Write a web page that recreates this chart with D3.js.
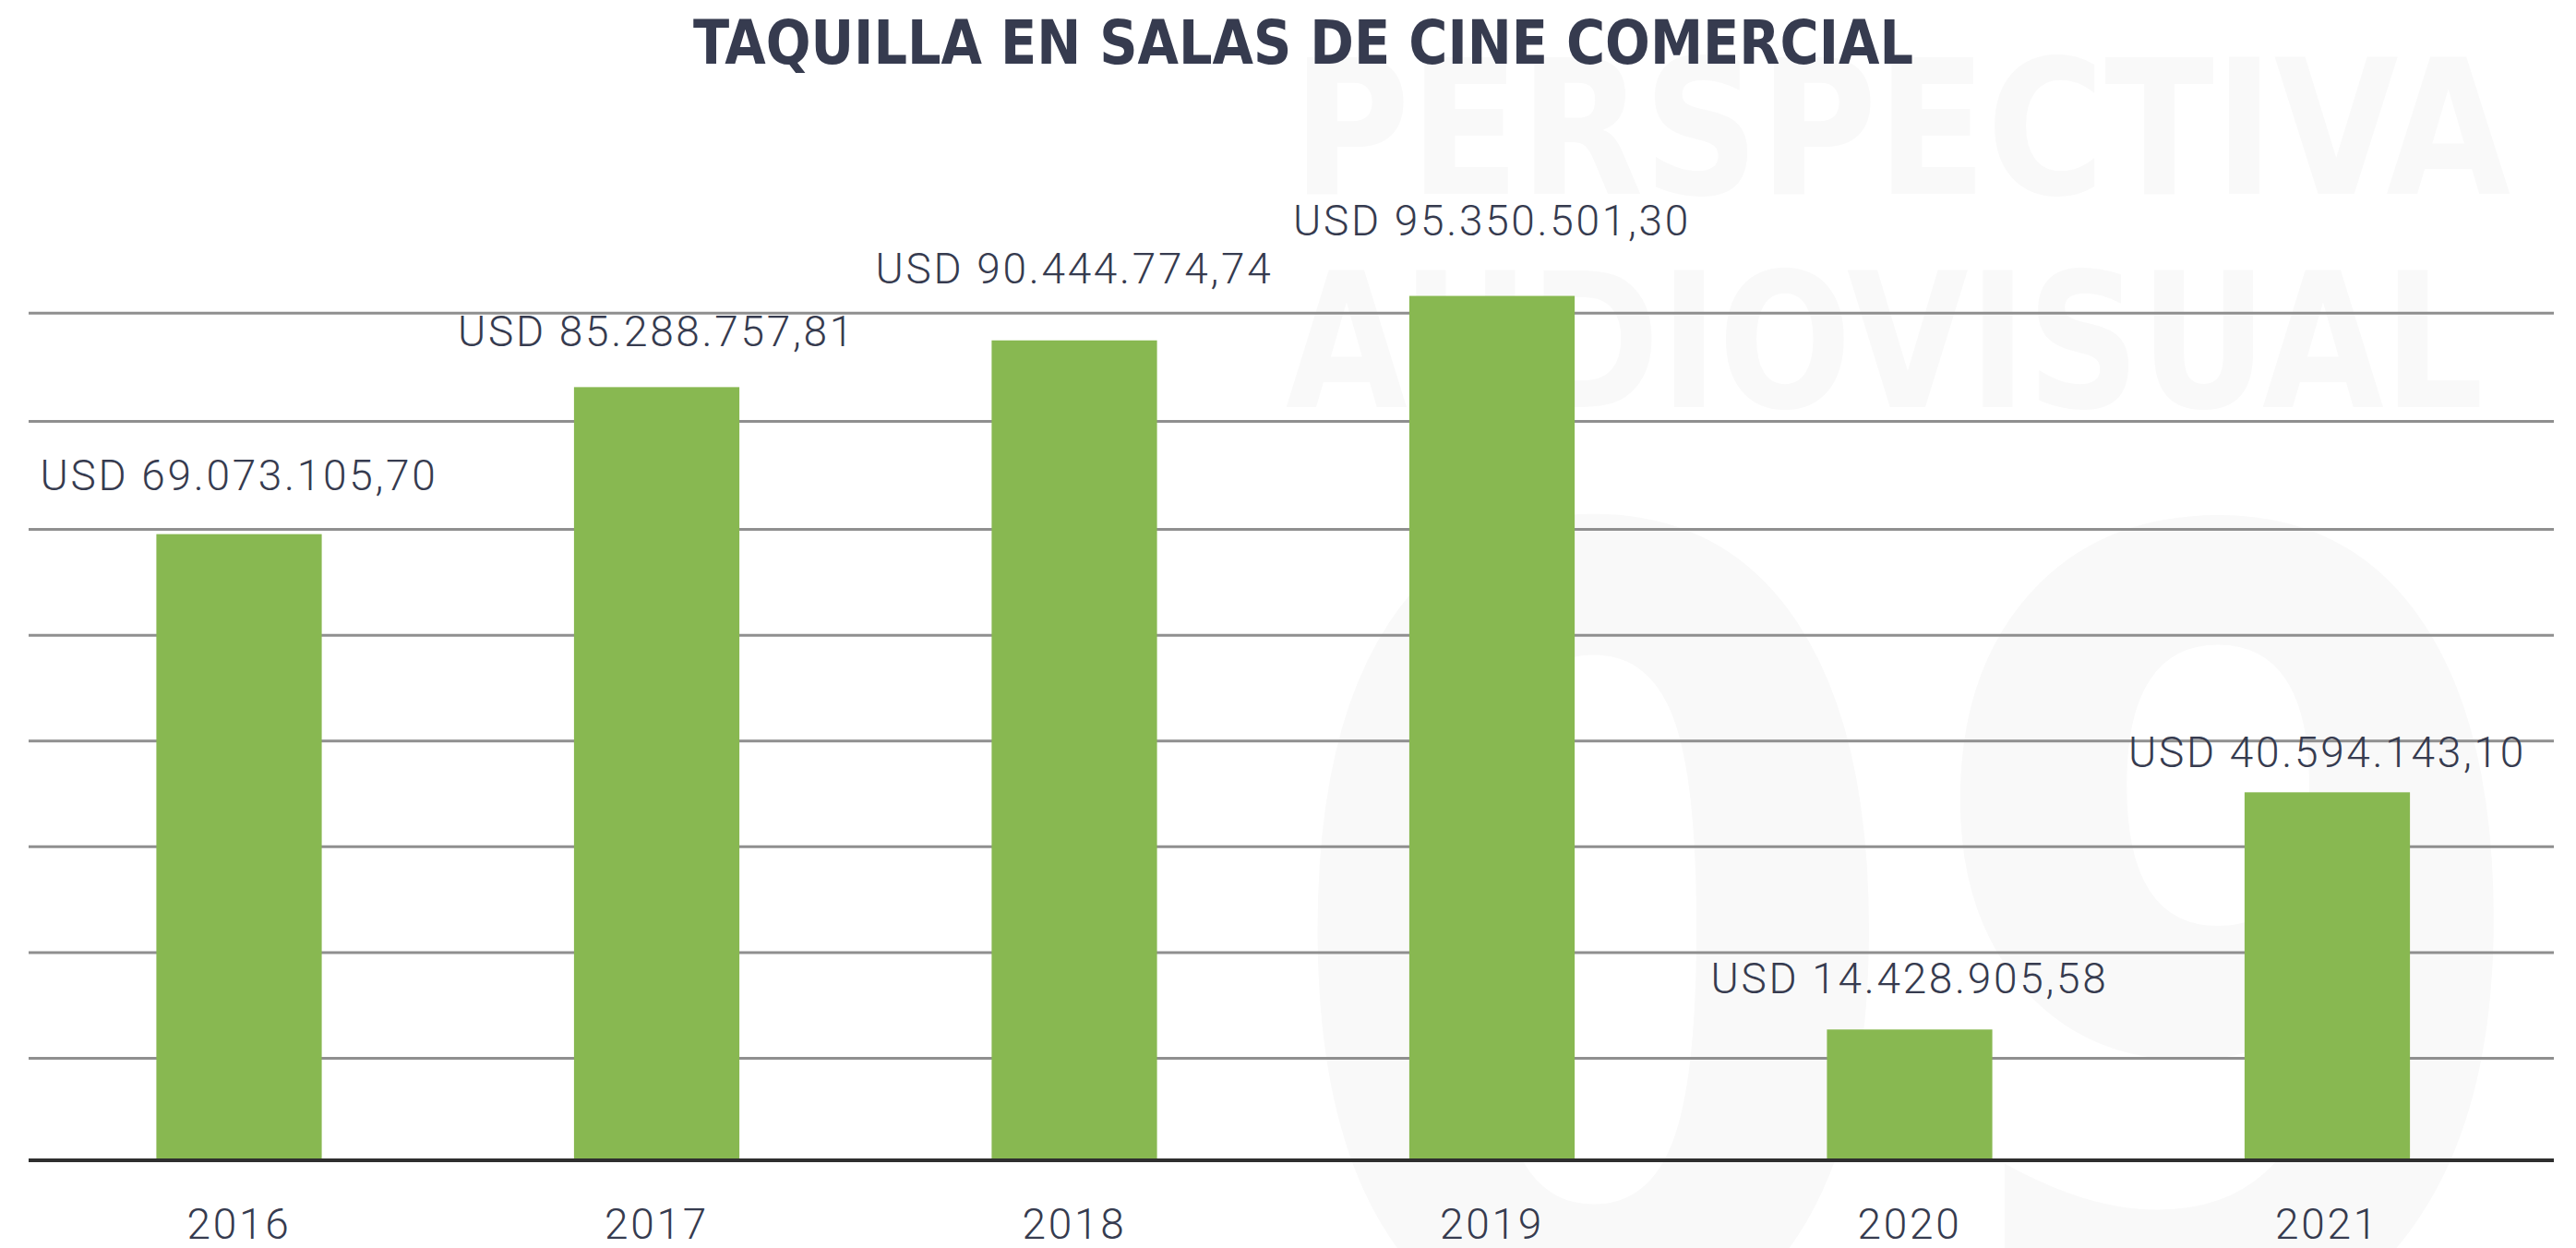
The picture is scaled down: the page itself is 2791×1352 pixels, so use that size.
<!DOCTYPE html>
<html>
<head>
<meta charset="utf-8">
<script src="https://cdn.jsdelivr.net/npm/d3@7"></script>
<style>
  html, body { margin: 0; padding: 0; background: #ffffff; }
  svg { display: block; }
</style>
</head>
<body>
<svg id="chart" width="2791" height="1352"></svg>
<script>
// ---- data ----
const title = "TAQUILLA EN SALAS DE CINE COMERCIAL";
const categories = ["2016", "2017", "2018", "2019", "2020", "2021"];
const values = [69073105.70, 85288757.81, 90444774.74, 95350501.30, 14428905.58, 40594143.10];
const gridValues = [11.25e6, 22.9e6, 34.6e6, 46.25e6, 57.9e6, 69.6e6, 81.5e6, 93.45e6];
const watermarkWords = ["PERSPECTIVA", "AUDIOVISUAL"];
const watermarkNumber = "09";

// ---- layout / style ----
const W = 2791, H = 1352;
const textColor = "#363b4f";
const barColor = "#88b851";
const gridColor = "#8f8f8f";
const wmColor = "#f9f9f9";
// gap (px) between each bar top and its value label baseline, as placed in the original
const labelGap = [48, 44, 62, 66, 39, 27];

const svg = d3.select("#chart");
svg.append("rect").attr("width", W).attr("height", H).attr("fill", "#ffffff");

const x = d3.scaleBand()
  .domain(categories)
  .range([32.75, 2747.75])
  .paddingInner(0.604)
  .paddingOuter(0.302);

const y = d3.scaleLinear()
  .domain([0, 100e6])
  .range([1257, 1257 - 982.1]);

const loc = d3.formatLocale({ decimal: ",", thousands: ".", grouping: [3], currency: ["USD ", ""] });
const fmt = loc.format("$,.2f");

// ---- watermark ----
const wm = svg.append("g").attr("class", "watermark")
  .attr("fill", wmColor)
  .attr("font-family", "'Liberation Sans Narrow', 'DejaVu Sans Condensed', 'Liberation Sans', sans-serif")
  .attr("font-weight", "bold");

const wmLines = [
  { x: 1400, y: 210, len: 1320 },
  { x: 1393, y: 441, len: 1298 }
];
wm.selectAll("text.word").data(watermarkWords).join("text")
  .attr("class", "word")
  .attr("x", (d, i) => wmLines[i].x)
  .attr("y", (d, i) => wmLines[i].y)
  .attr("font-size", 204)
  .attr("textLength", (d, i) => wmLines[i].len)
  .attr("lengthAdjust", "spacingAndGlyphs")
  .text(d => d);

wm.append("text")
  .attr("x", 1380)
  .attr("y", 1440)
  .attr("font-size", 1190)
  .attr("textLength", 1385)
  .attr("lengthAdjust", "spacingAndGlyphs")
  .text(watermarkNumber);

// ---- gridlines ----
svg.append("g").attr("class", "grid")
  .selectAll("line").data(gridValues).join("line")
  .attr("x1", 31).attr("x2", 2767)
  .attr("y1", d => y(d)).attr("y2", d => y(d))
  .attr("stroke", gridColor).attr("stroke-width", 3);

// ---- bars ----
svg.append("g").attr("class", "bars")
  .selectAll("rect").data(values).join("rect")
  .attr("x", (d, i) => x(categories[i]))
  .attr("width", x.bandwidth())
  .attr("y", d => y(d))
  .attr("height", d => y(0) - y(d))
  .attr("fill", barColor);

// ---- baseline ----
svg.append("line")
  .attr("x1", 31).attr("x2", 2767)
  .attr("y1", y(0)).attr("y2", y(0))
  .attr("stroke", "#2e2e2e").attr("stroke-width", 4);

// ---- value labels ----
svg.append("g").attr("class", "labels")
  .selectAll("text").data(values).join("text")
  .attr("x", (d, i) => x(categories[i]) + x.bandwidth() / 2)
  .attr("y", (d, i) => y(d) - labelGap[i])
  .attr("text-anchor", "middle")
  .attr("font-family", "Roboto, 'Open Sans', sans-serif")
  .attr("font-weight", 300)
  .attr("font-size", 46)
  .attr("letter-spacing", 2.7)
  .attr("fill", textColor)
  .text(d => fmt(d));

// ---- x axis ----
const xAxis = svg.append("g")
  .attr("transform", `translate(0, ${y(0)})`)
  .call(d3.axisBottom(x).tickSize(0).tickPadding(0));
xAxis.select(".domain").remove();
xAxis.selectAll("text")
  .attr("dy", null)
  .attr("y", 85)
  .attr("font-family", "Roboto, 'Open Sans', sans-serif")
  .attr("font-weight", 300)
  .attr("font-size", 46)
  .attr("letter-spacing", 2.7)
  .attr("fill", textColor);

// ---- title ----
svg.append("text")
  .attr("x", 751)
  .attr("y", 69)
  .attr("font-family", "'Liberation Sans Narrow', 'DejaVu Sans Condensed', 'Liberation Sans', sans-serif")
  .attr("font-weight", "bold")
  .attr("font-size", 66)
  .attr("textLength", 1322)
  .attr("lengthAdjust", "spacingAndGlyphs")
  .attr("fill", textColor)
  .text(title);
</script>
</body>
</html>
